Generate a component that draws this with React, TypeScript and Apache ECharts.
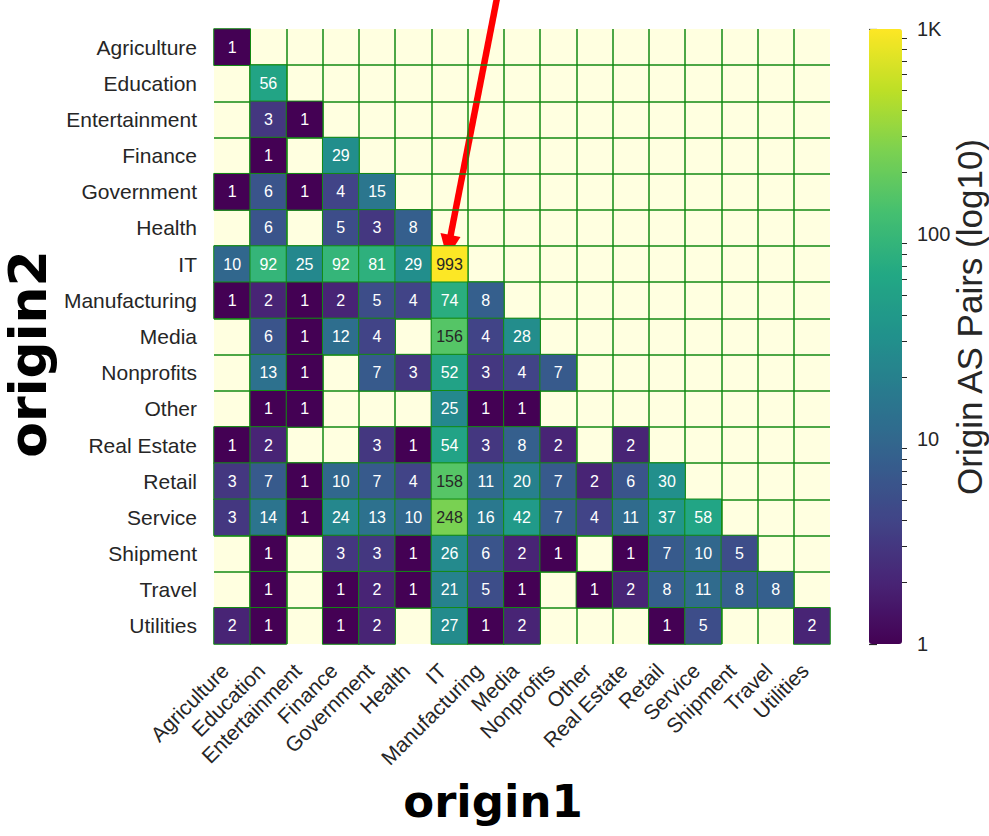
import React, { useEffect, useRef } from "react";
import * as echarts from "echarts";

const categories = [
  "Agriculture", "Education", "Entertainment", "Finance", "Government", "Health", "IT",
  "Manufacturing", "Media", "Nonprofits", "Other", "Real Estate", "Retail", "Service",
  "Shipment", "Travel", "Utilities",
];

// rows = origin2 (y), columns = origin1 (x); null = no pair
const rowAgriculture = [1];
const rowEducation = [null, 56];
const rowEntertainment = [null, 3, 1];
const rowFinance = [null, 1, null, 29];
const rowGovernment = [1, 6, 1, 4, 15];
const rowHealth = [null, 6, null, 5, 3, 8];
const rowIT = [10, 92, 25, 92, 81, 29, 993];
const rowManufacturing = [1, 2, 1, 2, 5, 4, 74, 8];
const rowMedia = [null, 6, 1, 12, 4, null, 156, 4, 28];
const rowNonprofits = [null, 13, 1, null, 7, 3, 52, 3, 4, 7];
const rowOther = [null, 1, 1, null, null, null, 25, 1, 1, null, null];
const rowRealEstate = [1, 2, null, null, 3, 1, 54, 3, 8, 2, null, 2];
const rowRetail = [3, 7, 1, 10, 7, 4, 158, 11, 20, 7, 2, 6, 30];
const rowService = [3, 14, 1, 24, 13, 10, 248, 16, 42, 7, 4, 11, 37, 58];
const rowShipment = [null, 1, null, 3, 3, 1, 26, 6, 2, 1, null, 1, 7, 10, 5];
const rowTravel = [null, 1, null, 1, 2, 1, 21, 5, 1, null, 1, 2, 8, 11, 8, 8];
const rowUtilities = [2, 1, null, 1, 2, null, 27, 1, 2, null, null, null, 1, 5, null, null, 2];

const rows: (number | null)[][] = [
  rowAgriculture, rowEducation, rowEntertainment, rowFinance, rowGovernment, rowHealth, rowIT,
  rowManufacturing, rowMedia, rowNonprofits, rowOther, rowRealEstate, rowRetail, rowService,
  rowShipment, rowTravel, rowUtilities,
];

const colorbarMajorTicks = [1, 10, 100, 1000];
const colorbarMajorLabels = ["1", "10", "100", "1K"];
const colorbarMinorTicks = [2, 3, 4, 5, 6, 7, 8, 9, 20, 30, 40, 50, 60, 70, 80, 90, 200, 300, 400, 500, 600, 700, 800, 900];

const viridis = [
  "#440154", "#482475", "#414487", "#355f8d", "#2a788e", "#21918c",
  "#22a884", "#44bf70", "#7ad151", "#bddf26", "#fde725",
];

const GREEN = "#138a13";
const TEXT = "#262626";
const FONT = "Liberation Sans";

export default function App() {
  const ref = useRef<HTMLDivElement>(null);
  useEffect(() => {
    const chart = echarts.init(ref.current!, null, { renderer: "svg" });
    const data: any[] = [];
    rows.forEach((row, r) =>
      row.forEach((v, c) => {
        if (v != null) {
          data.push({
            value: [c, r, Math.log10(v), v],
            label: { color: v >= 100 ? TEXT : "#ffffff" },
          });
        }
      })
    );
    const gx = 214, gy = 29, gw = 616, gh = 615;
    const cbx = 869, cbw = 33;
    chart.setOption({
      animation: false,
      backgroundColor: "#ffffff",
      grid: [
        { left: gx, top: gy, width: gw, height: gh, show: true, backgroundColor: "#FFFFE0", borderWidth: 0 },
        { left: cbx, top: gy, width: cbw, height: gh, show: false },
      ],
      xAxis: [
        {
          type: "category",
          data: categories,
          gridIndex: 0,
          axisLine: { show: false },
          axisTick: { show: false },
          splitLine: { show: true, showMinLine: false, showMaxLine: false, lineStyle: { color: GREEN, width: 1.5 } },
          axisLabel: { rotate: 45, fontSize: 21, color: TEXT, fontFamily: FONT, margin: 16, padding: [0, 10, 0, 0], interval: 0 },
        },
        { type: "value", gridIndex: 1, show: false, min: 0, max: 1 },
      ],
      yAxis: [
        {
          type: "category",
          data: categories,
          inverse: true,
          gridIndex: 0,
          axisLine: { show: false },
          axisTick: { show: false },
          splitLine: { show: true, showMinLine: false, showMaxLine: false, lineStyle: { color: GREEN, width: 1.5 } },
          axisLabel: { fontSize: 21, color: TEXT, fontFamily: FONT, margin: 17, interval: 0 },
        },
        {
          type: "value",
          gridIndex: 1,
          position: "right",
          min: 0,
          max: 3,
          axisLine: { show: false },
          splitLine: { show: false },
          axisTick: { show: true, length: 8, lineStyle: { color: TEXT, width: 1.2 }, customValues: colorbarMajorTicks.map((t) => Math.log10(t)) },
          axisLabel: {
            show: true,
            fontSize: 20,
            color: TEXT,
            fontFamily: FONT,
            margin: 15,
            customValues: colorbarMajorTicks.map((t) => Math.log10(t)),
            formatter: (v: number) => {
              const i = colorbarMajorTicks.findIndex((t) => Math.abs(Math.log10(t) - v) < 1e-6);
              return i >= 0 ? colorbarMajorLabels[i] : "";
            },
          },
        },
        {
          type: "value",
          gridIndex: 1,
          position: "right",
          min: 0,
          max: 3,
          axisLine: { show: false },
          splitLine: { show: false },
          axisTick: { show: true, length: 5, lineStyle: { color: TEXT, width: 1 }, customValues: colorbarMinorTicks.map((t) => Math.log10(t)) },
          axisLabel: { show: false },
        },
      ],
      visualMap: {
        type: "continuous",
        seriesIndex: 0,
        dimension: 2,
        min: 0,
        max: 3,
        show: true,
        left: cbx,
        top: gy,
        itemWidth: cbw,
        itemHeight: gh,
        padding: 0,
        calculable: false,
        text: null,
        showLabel: false,
        hoverLink: false,
        inRange: { color: viridis },
      },
      series: [
        {
          type: "heatmap",
          xAxisIndex: 0,
          yAxisIndex: 0,
          data,
          itemStyle: { borderColor: GREEN, borderWidth: 1 },
          label: {
            show: true,
            fontSize: 16,
            fontFamily: FONT,
            formatter: (p: any) => String(p.value[3]),
          },
          emphasis: { disabled: true },
        },
      ],
      graphic: [
        {
          type: "text",
          x: 493,
          y: 801,
          style: { text: "origin1", font: "bold 45px 'DejaVu Sans'", fill: "#000", align: "center", verticalAlign: "middle" },
        },
        {
          type: "text",
          x: 28,
          y: 354,
          rotation: Math.PI / 2,
          style: { text: "origin2", font: "bold 52px 'DejaVu Sans'", fill: "#000", align: "center", verticalAlign: "middle" },
        },
        {
          type: "text",
          x: 969,
          y: 317,
          rotation: Math.PI / 2,
          style: { text: "Origin AS Pairs (log10)", font: `35px '${FONT}'`, fill: TEXT, align: "center", verticalAlign: "middle" },
        },
        {
          type: "line",
          shape: { x1: 497, y1: -2, x2: 450.5, y2: 236 },
          style: { stroke: "#ff0000", lineWidth: 6.5 },
        },
        {
          type: "polygon",
          shape: { points: [[447, 258], [460.5, 237], [440.5, 233]] },
          style: { fill: "#ff0000" },
        },
      ],
    });
    return () => chart.dispose();
  }, []);
  return <div ref={ref} style={{ position: "absolute", left: 0, top: 0, width: 989, height: 836 }} />;
}
